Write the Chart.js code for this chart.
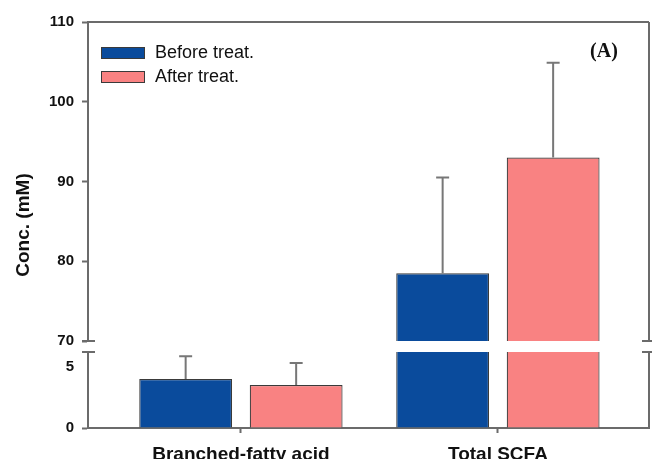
<!DOCTYPE html>
<html>
<head>
<meta charset="utf-8">
<script src="https://cdn.jsdelivr.net/npm/chart.js@4"></script>
<style>
  html, body { margin: 0; padding: 0; background: #fff; }
  #wrap { position: relative; width: 652px; height: 459px; overflow: hidden; }
  #wrap canvas { position: absolute; left: 0; top: 0; }
</style>
</head>
<body>
<div id="wrap">
  <canvas id="upperChart" width="652" height="459"></canvas>
  <canvas id="lowerChart" width="652" height="459"></canvas>
</div>
<script>
// --- datos ---
const categories = ['Branched-fatty acid', 'Total SCFA'];
const seriesNames = ['Before treat.', 'After treat.'];
const beforeValues = [4.0, 78.5];
const beforeSD = [1.85, 12.0];
const afterValues = [3.5, 93.0];
const afterSD = [1.8, 11.9];

// eje Y partido: tramo superior y tramo inferior
const upperRange = [70, 110];
const upperTicks = [70, 80, 90, 100, 110];
const lowerRange = [0, 6.2];
const lowerTicks = [0, 5];

const colors = ['#0a4b9c', '#f98282'];
const axisColor = '#6b6b6b';
const fontFamily = '"Liberation Sans", Arial, sans-serif';

const xMin = -0.595, xMax = 1.588;

// Construye los datasets para un tramo (valores fuera del tramo inferior -> null)
function buildDatasets(minVisible) {
    const vals = [beforeValues, afterValues];
    const sds = [beforeSD, afterSD];
    return seriesNames.map((name, s) => ({
        label: name,
        data: vals[s].map((v, i) => ({ x: i, y: v >= minVisible ? v : null })),
        sd: sds[s],
        backgroundColor: colors[s],
        borderColor: '#3a3a3a',
        borderWidth: 1.2,
        borderSkipped: 'start',
        categoryPercentage: 0.86,
        barPercentage: 0.84,
        clip: 0
    }));
}

// Barras de error (solo hacia arriba)
const errorBars = {
    id: 'errorBars',
    afterDatasetsDraw(chart) {
        const { ctx, chartArea } = chart;
        const yScale = chart.scales.y;
        ctx.save();
        ctx.beginPath();
        ctx.rect(chartArea.left, chartArea.top - 1, chartArea.right - chartArea.left, chartArea.bottom - chartArea.top + 1);
        ctx.clip();
        ctx.strokeStyle = '#777';
        ctx.lineWidth = 2;
        chart.data.datasets.forEach((ds, di) => {
            const meta = chart.getDatasetMeta(di);
            meta.data.forEach((bar, i) => {
                const v = ds.data[i].y;
                if (v === null) return;
                const yTop = yScale.getPixelForValue(v + ds.sd[i]);
                const yBar = yScale.getPixelForValue(v);
                ctx.beginPath();
                ctx.moveTo(bar.x, yBar);
                ctx.lineTo(bar.x, yTop);
                ctx.moveTo(bar.x - 6.5, yTop);
                ctx.lineTo(bar.x + 6.5, yTop);
                ctx.stroke();
            });
        });
        ctx.restore();
    }
};

// Marco, marcas de corte, leyenda y textos
const frame = {
    id: 'frame',
    afterDraw(chart, args, opts) {
        const { ctx, chartArea: a } = chart;
        ctx.save();
        ctx.strokeStyle = axisColor;
        ctx.lineWidth = 2;
        ctx.beginPath();
        if (opts.part === 'upper') {
            ctx.moveTo(a.left, a.top);
            ctx.lineTo(a.right, a.top);
            ctx.moveTo(a.right, a.top);
            ctx.lineTo(a.right, a.bottom);
            // marcas del corte
            ctx.moveTo(a.left - 6, a.bottom);
            ctx.lineTo(a.left + 7, a.bottom);
            ctx.moveTo(a.right - 7, a.bottom);
            ctx.lineTo(a.right + 6, a.bottom);
        } else {
            ctx.moveTo(a.right, a.top);
            ctx.lineTo(a.right, a.bottom);
            ctx.moveTo(a.left - 6, a.top);
            ctx.lineTo(a.left + 7, a.top);
            ctx.moveTo(a.right - 7, a.top);
            ctx.lineTo(a.right + 6, a.top);
        }
        ctx.stroke();

        if (opts.part === 'upper') {
            // leyenda
            chart.data.datasets.forEach((ds, i) => {
                const bx = a.left + 13, by = a.top + 25 + i * 24;
                ctx.fillStyle = ds.backgroundColor;
                ctx.fillRect(bx, by, 44, 11);
                ctx.lineWidth = 1;
                ctx.strokeStyle = '#3a3a3a';
                ctx.strokeRect(bx + 0.5, by + 0.5, 43, 11);
                ctx.fillStyle = '#111';
                ctx.font = '18px ' + fontFamily;
                ctx.textBaseline = 'middle';
                ctx.textAlign = 'left';
                ctx.fillText(ds.label, bx + 54, by + 6);
            });
            // etiqueta del panel
            ctx.font = 'bold 20px "Liberation Serif", "Times New Roman", serif';
            ctx.fillStyle = '#111';
            ctx.textAlign = 'center';
            ctx.textBaseline = 'middle';
            ctx.fillText('(A)', a.right - 45, a.top + 30);
        } else {
            // título del eje Y, centrado sobre los dos tramos
            const upper = Chart.getChart('upperChart');
            const top = upper ? upper.chartArea.top : 22;
            const cy = (top + a.bottom) / 2;
            ctx.translate(24, cy);
            ctx.rotate(-Math.PI / 2);
            ctx.font = 'bold 19px ' + fontFamily;
            ctx.fillStyle = '#111';
            ctx.textAlign = 'center';
            ctx.textBaseline = 'middle';
            ctx.fillText('Conc. (mM)', 0, 0);
        }
        ctx.restore();
    }
};

function yAxis(range, ticksList) {
    return {
        min: range[0],
        max: range[1],
        afterBuildTicks: s => { s.ticks = ticksList.map(v => ({ value: v })); },
        afterFit: s => { s.width = 88; },
        border: { color: axisColor, width: 2 },
        grid: {
            drawOnChartArea: false,
            tickLength: 6,
            tickWidth: 2,
            tickColor: c => (c.tick && c.tick.value === 5 ? 'rgba(0,0,0,0)' : axisColor)
        },
        ticks: {
            padding: 8,
            color: '#111',
            font: { family: fontFamily, size: 15, weight: 'bold' }
        }
    };
}

const commonOpts = {
    responsive: false,
    animation: false,
    events: [],
    plugins: { legend: { display: false }, tooltip: { enabled: false } }
};

new Chart(document.getElementById('upperChart'), {
    type: 'bar',
    data: { datasets: buildDatasets(upperRange[0]) },
    options: Object.assign({}, commonOpts, {
        layout: { padding: { top: 22, right: 3, bottom: 118, left: 0 } },
        scales: {
            x: {
                type: 'linear', min: xMin, max: xMax, display: false, offset: false,
                grid: { offset: false },
                afterBuildTicks: s => { s.ticks = categories.map((c, i) => ({ value: i })); }
            },
            y: yAxis(upperRange, upperTicks)
        },
        plugins: Object.assign({}, commonOpts.plugins, { frame: { part: 'upper' } })
    }),
    plugins: [errorBars, frame]
});

new Chart(document.getElementById('lowerChart'), {
    type: 'bar',
    data: { datasets: buildDatasets(lowerRange[0]) },
    options: Object.assign({}, commonOpts, {
        layout: { padding: { top: 352, right: 3, bottom: 0, left: 0 } },
        scales: {
            x: {
                type: 'linear', min: xMin, max: xMax, offset: false,
                afterBuildTicks: s => { s.ticks = categories.map((c, i) => ({ value: i })); },
                afterFit: s => { s.height = 31; },
                border: { color: axisColor, width: 2 },
                grid: { offset: false, drawOnChartArea: false, tickLength: 5, tickWidth: 2, tickColor: axisColor },
                ticks: {
                    padding: 10,
                    color: '#111',
                    maxRotation: 0,
                    autoSkip: false,
                    font: { family: fontFamily, size: 19, weight: 'bold' },
                    callback: v => categories[v]
                }
            },
            y: yAxis(lowerRange, lowerTicks)
        },
        plugins: Object.assign({}, commonOpts.plugins, { frame: { part: 'lower' } })
    }),
    plugins: [errorBars, frame]
});
</script>
</body>
</html>
